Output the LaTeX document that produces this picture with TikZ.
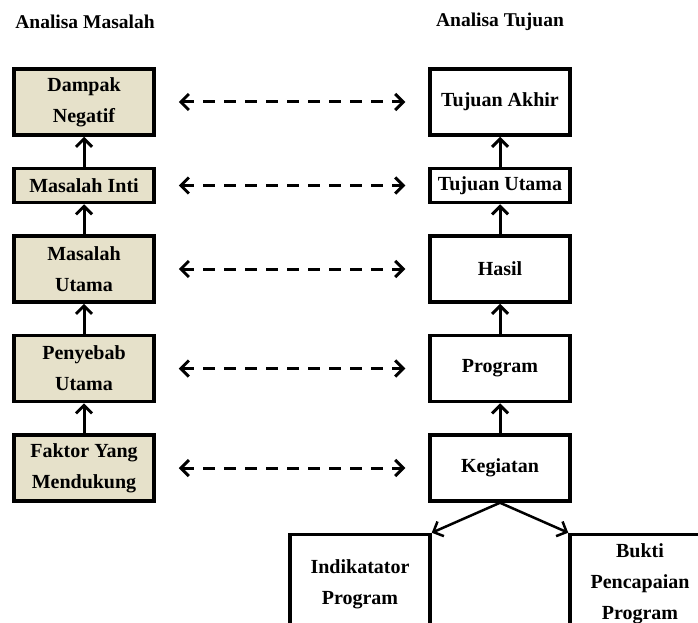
\documentclass[tikz,border=0pt]{standalone}
\usepackage{fontspec}
\setmainfont{Liberation Serif}
\usepackage{xcolor}
\usepackage{tikz}
\usetikzlibrary{positioning,arrows.meta}
\definecolor{boxbeige}{RGB}{230,225,202}
\tikzset{
  plain box/.style={
    draw=black,
    line width=3.5pt,
    minimum width=140pt,
    minimum height={#1},
    align=center,
    font=\fontsize{20}{31}\selectfont\bfseries,
  },
  beige box/.style={
    plain box=#1,
    fill=boxbeige,
  },
  title/.style={
    font=\fontsize{19.5}{31}\selectfont\bfseries,
  },
  up arrow/.style={
    line width=3pt,
    -{Straight Barb[length=8pt,width=16pt]},
  },
  link arrow/.style={
    dashed,
    dash pattern=on 12pt off 9pt,
    line width=3pt,
    shorten <=23pt,
    shorten >=23pt,
    {Straight Barb[length=8pt,width=16pt]}-{Straight Barb[length=8pt,width=16pt]},
  },
  split arrow/.style={
    line width=2.5pt,
    -{Straight Barb[length=8pt,width=16pt]},
  }
}
\begin{document}
\begin{tikzpicture}[x=1pt,y=1pt,node distance=30pt]
    \useasboundingbox (0,0) rectangle (698,-623);
    \clip (0,0) rectangle (698,-623);

    \node [title] (tm) at (85,-22) {Analisa Masalah};
    \node [title] (tt) at (500,-22) {Analisa Tujuan};

    % analisa masalah
    \node [beige box=66pt] (m1) at (84,-102) {Dampak\\Negatif};
    \node [beige box=34pt, below=of m1] (m2) {Masalah Inti};
    \node [beige box=66pt, below=of m2] (m3) {Masalah\\Utama};
    \node [beige box=66pt, below=of m3] (m4) {Penyebab\\Utama};
    \node [beige box=66pt, below=of m4] (m5) {Faktor Yang\\Mendukung};

    % analisa tujuan
    \node [plain box=66pt] (t1) at (500,-102) {Tujuan Akhir};
    \node [plain box=34pt, below=of t1] (t2) {Tujuan Utama};
    \node [plain box=66pt, below=of t2] (t3) {Hasil};
    \node [plain box=66pt, below=of t3] (t4) {Program};
    \node [plain box=66pt, below=of t4] (t5) {Kegiatan};

    \node [plain box=130pt, below left=30pt and -3.5pt of t5] (ind) {Indikatator\\Program\\[4pt]};
    \node [plain box=130pt, below right=30pt and -3.5pt of t5] (bukti) {Bukti\\Pencapaian\\Program\\[4pt]};

    \foreach \i/\j in {2/1,3/2,4/3,5/4} {
        \draw [up arrow] (m\i) -- (m\j);
        \draw [up arrow] (t\i) -- (t\j);
    }
    \foreach \i in {1,...,5}
        \draw [link arrow] (m\i) -- (t\i);

    \draw [split arrow] (t5.south) -- (ind.north east);
    \draw [split arrow] (t5.south) -- (bukti.north west);
\end{tikzpicture}
\end{document}
